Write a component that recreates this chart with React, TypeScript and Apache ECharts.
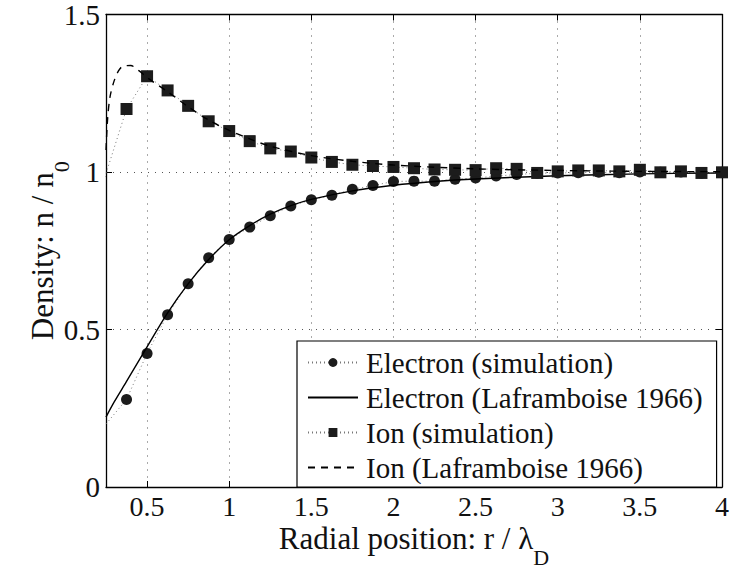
import React, { useEffect, useRef } from 'react';
import * as echarts from 'echarts';

// Simulation sample positions (r / lambda_D)
const simX = [0.125, 0.375, 0.5, 0.625, 0.75, 0.875, 1, 1.125, 1.25, 1.375, 1.5, 1.625, 1.75, 1.875, 2, 2.125, 2.25, 2.375, 2.5, 2.625, 2.75, 2.875, 3, 3.125, 3.25, 3.375, 3.5, 3.625, 3.75, 3.875, 4];
const electronSim = [0.122, 0.278, 0.424, 0.547, 0.645, 0.728, 0.786, 0.825, 0.861, 0.892, 0.912, 0.926, 0.945, 0.957, 0.97, 0.971, 0.971, 0.977, 0.981, 0.987, 0.992, 0.996, 0.997, 0.998, 0.999, 0.998, 1.0, 0.999, 1.0, 0.996, 0.999];
const ionSim = [0.79, 1.2, 1.304, 1.259, 1.21, 1.161, 1.13, 1.098, 1.075, 1.065, 1.046, 1.032, 1.023, 1.019, 1.016, 1.012, 1.008, 1.007, 1.006, 1.012, 1.01, 0.997, 1.002, 1.005, 1.005, 1.002, 1.007, 0.999, 1.002, 0.997, 0.999];

// Laframboise (1966) theory curves
const elTheoryX = [0.25, 0.3, 0.375, 0.5, 0.625, 0.75, 0.875, 1, 1.125, 1.25, 1.375, 1.5, 1.75, 2, 2.25, 2.5, 3, 3.5, 4];
const elTheory = [0.222, 0.27, 0.335, 0.445, 0.553, 0.645, 0.722, 0.785, 0.83, 0.866, 0.893, 0.913, 0.94, 0.958, 0.97, 0.978, 0.988, 0.994, 0.997];
const ionTheoryX = [0.25, 0.26, 0.275, 0.3, 0.325, 0.35, 0.4, 0.45, 0.5, 0.625, 0.75, 0.875, 1, 1.125, 1.25, 1.5, 1.75, 2, 2.5, 3, 3.5, 4];
const ionTheory = [1.07, 1.17, 1.24, 1.29, 1.32, 1.335, 1.338, 1.322, 1.3, 1.255, 1.207, 1.165, 1.132, 1.105, 1.082, 1.052, 1.034, 1.022, 1.01, 1.005, 1.002, 1.001];

const xTicks = [0.5, 1, 1.5, 2, 2.5, 3, 3.5, 4];
const seriesNames = ['Electron (simulation)', 'Electron (Laframboise 1966)', 'Ion (simulation)', 'Ion (Laframboise 1966)'];

const FONT = "'Liberation Serif', 'Times New Roman', serif";
const INK = '#111';
const MARK = '#1c1c1c';

const zip = (xs: number[], ys: number[]) => xs.map((x, i) => [x, ys[i]]);

const titleRich = {
  a: { fontFamily: FONT, fontSize: 31, lineHeight: 31, color: INK, verticalAlign: 'top' },
  s: { fontFamily: FONT, fontSize: 22, lineHeight: 45, color: INK, verticalAlign: 'bottom' },
};

export default function App() {
  const ref = useRef<HTMLDivElement>(null);
  useEffect(() => {
    if (!ref.current) return;
    const chart = echarts.init(ref.current, undefined, { renderer: 'svg' });
    const gridDots = { show: true, lineStyle: { color: '#555', width: 1, type: [1, 6] as any } };
    const simLine = { color: '#777', width: 1, type: [1, 3] as any };
    const boxAxisLine = { show: true, onZero: false, lineStyle: { color: '#000', width: 1.3 } };
    chart.setOption({
      animation: false,
      backgroundColor: '#fff',
      textStyle: { fontFamily: FONT },
      grid: { left: 106, right: 7, top: 14, bottom: 79, containLabel: false },
      legend: {
        left: 297,
        top: 341,
        orient: 'vertical',
        data: [
          { name: seriesNames[0] },
          { name: seriesNames[1], itemStyle: { opacity: 0 } },
          { name: seriesNames[2] },
          { name: seriesNames[3], itemStyle: { opacity: 0 } },
        ],
        backgroundColor: '#fff',
        borderColor: '#000',
        borderWidth: 1.2,
        borderRadius: 0,
        padding: [7, 14, 5, 10],
        itemWidth: 50,
        itemHeight: 11,
        itemGap: 6,
        textStyle: { fontFamily: FONT, fontSize: 29, lineHeight: 29, color: INK, padding: [0, 0, 0, 3] },
      },
      xAxis: [
        {
          type: 'value',
          min: 0.25,
          max: 4,
          name: '{a|Radial position: r / λ}{s|D}',
          nameLocation: 'middle',
          nameGap: 36,
          nameMoveOverlap: false,
          nameTextStyle: { color: INK, rich: titleRich },
          axisLine: boxAxisLine,
          axisTick: { show: true, inside: true, length: 6, customValues: xTicks, lineStyle: { color: '#000' } },
          axisLabel: { show: true, customValues: xTicks, margin: 9, lineHeight: 20, fontFamily: FONT, fontSize: 28, color: INK },
          splitLine: gridDots,
        },
        {
          type: 'value',
          position: 'top',
          min: 0.25,
          max: 4,
          axisLine: boxAxisLine,
          axisTick: { show: true, inside: true, length: 6, customValues: xTicks, lineStyle: { color: '#000' } },
          axisLabel: { show: false },
          splitLine: { show: false },
        },
      ],
      yAxis: [
        {
          type: 'value',
          min: 0,
          max: 1.5,
          interval: 0.5,
          name: '{a|Density: n / n}{s|0}',
          nameLocation: 'middle',
          nameRotate: 90,
          nameGap: 34,
          nameMoveOverlap: false,
          nameTextStyle: { color: INK, rich: titleRich },
          axisLine: boxAxisLine,
          axisTick: { show: true, inside: true, length: 6, lineStyle: { color: '#000' } },
          axisLabel: { show: true, margin: 6, fontFamily: FONT, fontSize: 29, color: INK },
          splitLine: gridDots,
        },
        {
          type: 'value',
          position: 'right',
          min: 0,
          max: 1.5,
          interval: 0.5,
          axisLine: boxAxisLine,
          axisTick: { show: true, inside: true, length: 6, lineStyle: { color: '#000' } },
          axisLabel: { show: false },
          splitLine: { show: false },
        },
      ],
      series: [
        {
          name: seriesNames[0],
          type: 'line',
          data: zip(simX, electronSim),
          symbol: 'circle',
          symbolSize: 11,
          showAllSymbol: true,
          clip: true,
          itemStyle: { color: MARK, borderWidth: 0 },
          lineStyle: simLine,
          z: 3,
        },
        {
          name: seriesNames[1],
          type: 'line',
          data: zip(elTheoryX, elTheory),
          symbol: 'none',
          smooth: 0.3,
          clip: true,
          itemStyle: { color: '#000' },
          lineStyle: { color: '#000', width: 1.4, type: 'solid' },
          z: 4,
        },
        {
          name: seriesNames[2],
          type: 'line',
          data: zip(simX, ionSim),
          symbol: 'rect',
          symbolSize: 12,
          showAllSymbol: true,
          clip: true,
          itemStyle: { color: MARK, borderWidth: 0 },
          lineStyle: simLine,
          z: 5,
        },
        {
          name: seriesNames[3],
          type: 'line',
          data: zip(ionTheoryX, ionTheory),
          symbol: 'none',
          smooth: 0.3,
          clip: true,
          itemStyle: { color: '#000' },
          lineStyle: { color: '#000', width: 1.4, type: [7, 6] as any },
          z: 6,
        },
      ],
    });
    return () => chart.dispose();
  }, []);
  return (
    <div
      ref={ref}
      style={{ position: 'fixed', left: 0, top: 0, width: 732, height: 573, background: '#fff' }}
    />
  );
}
